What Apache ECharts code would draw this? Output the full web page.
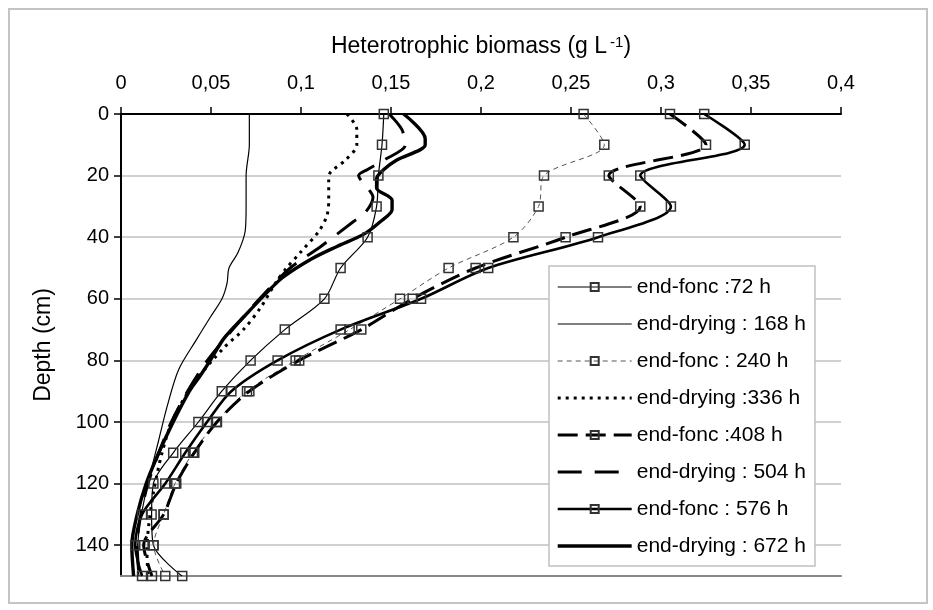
<!DOCTYPE html>
<html>
<head>
<meta charset="utf-8">
<script src="https://cdn.jsdelivr.net/npm/echarts@6/dist/echarts.min.js"></script>
<style>
  html, body { margin: 0; background: #fff; }
  #chart { width: 933px; height: 610px; }
</style>
</head>
<body>
<div id="chart"></div>
<script>
const xTicks = [0, 0.05, 0.1, 0.15, 0.2, 0.25, 0.3, 0.35, 0.4];
const yTicks = [0, 20, 40, 60, 80, 100, 120, 140];

// end-fonc profiles, sampled every 10 cm
const depthFonc = [0, 10, 20, 30, 40, 50, 60, 70, 80, 90, 100, 110, 120, 130, 140, 150];
const fonc72 = [0.146, 0.145, 0.143, 0.142, 0.137, 0.122, 0.113, 0.091, 0.072, 0.056, 0.043, 0.029, 0.018, 0.017, 0.018, 0.034];
const fonc240 = [0.257, 0.2685, 0.235, 0.232, 0.218, 0.182, 0.155, 0.127, 0.097, 0.070, 0.053, 0.040, 0.030, 0.0237, 0.0181, 0.0246];
const fonc408 = [0.305, 0.325, 0.271, 0.2885, 0.247, 0.197, 0.162, 0.1335, 0.099, 0.0713, 0.0533, 0.0407, 0.0307, 0.0237, 0.0126, 0.0172];
const fonc576 = [0.324, 0.3465, 0.2885, 0.3055, 0.265, 0.204, 0.1667, 0.122, 0.087, 0.0613, 0.0478, 0.0357, 0.0246, 0.0117, 0.0079, 0.0117];

// end-drying profiles
const depth168 = [0, 10, 20, 30, 38, 45, 50, 55, 60, 66, 73, 83, 95, 106, 115, 125, 135, 145, 150];
const dry168 = [0.0713, 0.0713, 0.0695, 0.0695, 0.069, 0.065, 0.060, 0.0589, 0.0561, 0.0496, 0.0422, 0.032, 0.0256, 0.0209, 0.017, 0.013, 0.010, 0.009, 0.010];
const depth336 = [0, 5, 10, 15, 19, 22, 28, 33, 38, 45, 50, 55, 63, 70, 76, 87, 99, 110, 123, 134, 142, 150];
const dry336 = [0.1255, 0.131, 0.131, 0.1246, 0.1163, 0.1154, 0.1154, 0.1144, 0.110, 0.0996, 0.092, 0.0857, 0.0774, 0.068, 0.057, 0.041, 0.029, 0.0228, 0.018, 0.0153, 0.0144, 0.015];
const depth504 = [0, 5, 10, 15, 18, 20, 24, 27, 32, 35, 43, 50, 60, 70, 80, 90, 100, 110, 120, 130, 140, 150];
const dry504 = [0.149, 0.156, 0.158, 0.146, 0.137, 0.132, 0.137, 0.140, 0.1357, 0.129, 0.111, 0.094, 0.077, 0.062, 0.048, 0.037, 0.028, 0.021, 0.015, 0.011, 0.009, 0.010];
const depth672 = [0, 8, 10, 15, 18, 21, 24, 28, 31, 35, 39, 43, 47, 53, 58, 66, 73, 80, 85, 90, 100, 110, 120, 130, 140, 150];
const dry672 = [0.157, 0.169, 0.169, 0.153, 0.146, 0.142, 0.142, 0.1506, 0.1506, 0.144, 0.135, 0.120, 0.106, 0.090, 0.081, 0.068, 0.057, 0.0496, 0.044, 0.038, 0.029, 0.021, 0.014, 0.009, 0.006, 0.007];

const font = "'Liberation Sans', Arial, sans-serif";
const marker = { color: 'rgba(0,0,0,0)', borderColor: '#333', borderWidth: 1.5 };
const noMarker = { color: 'rgba(0,0,0,0)', borderWidth: 0 };

const line = (name, depths, vals, lineStyle, withMarker) => ({
  type: 'line',
  name: name,
  data: vals.map((v, i) => [v, depths[i]]),
  smooth: 0.3,
  symbol: withMarker ? 'rect' : 'none',
  symbolSize: 9,
  itemStyle: withMarker ? marker : noMarker,
  lineStyle: lineStyle,
  emphasis: { disabled: true },
  animation: false
});

const series = [
  line('end-fonc :72 h', depthFonc, fonc72, { color: '#000', width: 1.2 }, true),
  line('end-drying : 168 h', depth168, dry168, { color: '#000', width: 1.2 }, false),
  line('end-fonc : 240 h', depthFonc, fonc240, { color: '#555', width: 1, type: [5, 4] }, true),
  line('end-drying :336 h', depth336, dry336, { color: '#000', width: 3, type: [3, 5] }, false),
  line('end-fonc :408 h', depthFonc, fonc408, { color: '#000', width: 3, type: [20, 8] }, true),
  line('end-drying : 504 h', depth504, dry504, { color: '#000', width: 3, type: [24, 13] }, false),
  line('end-fonc : 576 h', depthFonc, fonc576, { color: '#000', width: 2.6 }, true),
  line('end-drying : 672 h', depth672, dry672, { color: '#000', width: 3.4 }, false)
];

const chart = echarts.init(document.getElementById('chart'), null, { renderer: 'canvas' });
chart.setOption({
  backgroundColor: '#fff',
  textStyle: { fontFamily: font },
  graphic: [{
    type: 'rect',
    shape: { x: 9, y: 9, width: 918, height: 594 },
    style: { fill: 'none', stroke: '#c4c4c4', lineWidth: 2 },
    silent: true
  }],
  grid: { left: 121, right: 92, top: 114, bottom: 34 },
  legend: {
    orient: 'vertical',
    left: 549,
    top: 266,
    itemWidth: 74,
    itemHeight: 10,
    itemGap: 13,
    padding: [9, 9, 8, 7],
    backgroundColor: '#fff',
    borderColor: '#c0c0c0',
    borderWidth: 1.5,
    textStyle: { fontSize: 21, color: '#000', fontFamily: font, lineHeight: 24 },
    data: series.map(s => ({
      name: s.name,
      lineStyle: { width: s.lineStyle.width, type: s.lineStyle.type || 'solid', color: s.lineStyle.color }
    }))
  },
  xAxis: [{
    type: 'value',
    position: 'top',
    min: 0,
    max: 0.4,
    interval: 0.05,
    name: '{t|Heterotrophic biomass (g L}{s|-1}{t|)}',
    nameLocation: 'middle',
    nameGap: 55,
    nameTextStyle: {
      rich: {
        t: { fontSize: 23, color: '#000', fontFamily: font },
        s: { fontSize: 15, color: '#000', fontFamily: font, verticalAlign: 'top', padding: [0, 0, 9, 3] }
      }
    },
    axisLine: { lineStyle: { color: '#000', width: 2 } },
    axisTick: { inside: false, length: 7, lineStyle: { color: '#000', width: 1.5 }, customValues: xTicks },
    axisLabel: {
      fontSize: 20, color: '#000', margin: 21, fontFamily: font,
      customValues: xTicks,
      formatter: v => String(+v.toFixed(2)).replace('.', ',')
    },
    splitLine: { show: false }
  }, {
    type: 'value',
    position: 'bottom',
    min: 0,
    max: 0.4,
    axisLine: { lineStyle: { color: '#888', width: 2 } },
    axisTick: { show: false },
    axisLabel: { show: false },
    splitLine: { show: false }
  }],
  yAxis: {
    type: 'value',
    inverse: true,
    min: 0,
    max: 150,
    interval: 20,
    name: 'Depth (cm)',
    nameLocation: 'middle',
    nameGap: 66,
    nameTextStyle: { fontSize: 23, color: '#000', fontFamily: font },
    axisLine: { onZero: false, lineStyle: { color: '#000', width: 2 } },
    axisTick: { length: 7, lineStyle: { color: '#000', width: 1.5 }, customValues: yTicks },
    axisLabel: { fontSize: 20, color: '#000', margin: 12, fontFamily: font, customValues: yTicks },
    splitLine: { show: true, lineStyle: { color: '#c0c0c0', width: 1.5 } }
  },
  series: series
});
</script>
</body>
</html>
